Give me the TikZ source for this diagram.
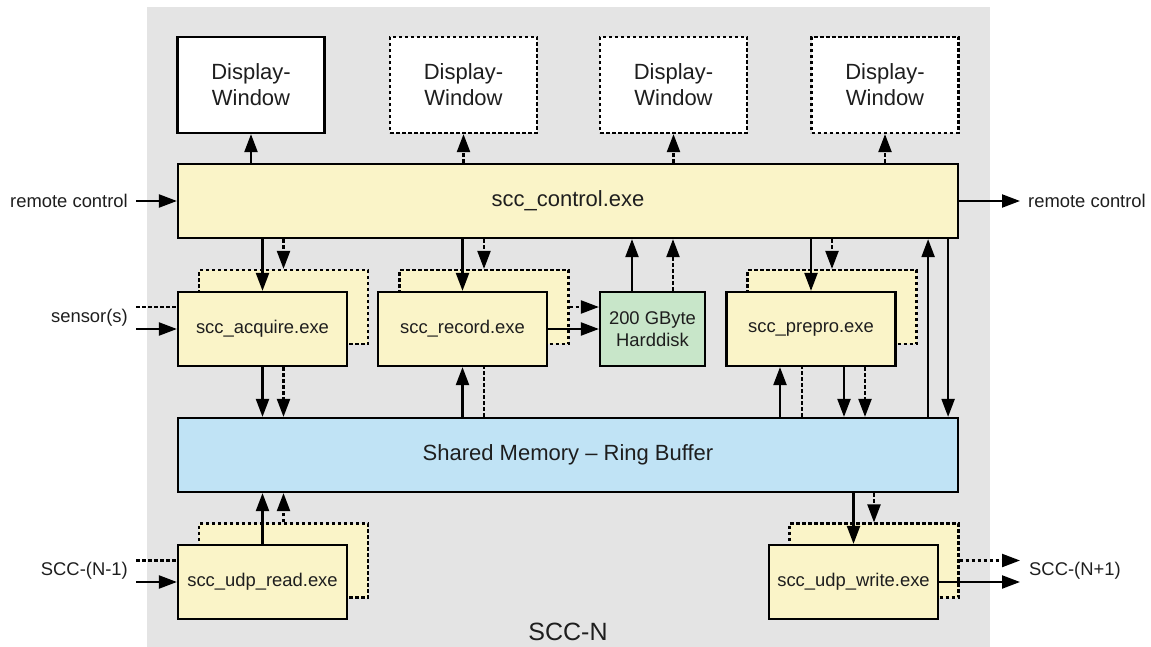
\documentclass[tikz,border=0pt]{standalone}
\usepackage{fontspec}
\setmainfont{Liberation Sans}
\usetikzlibrary{arrows.meta}
\definecolor{bggray}{RGB}{228,228,228}
\definecolor{boxyellow}{RGB}{250,244,200}
\definecolor{boxblue}{RGB}{192,227,245}
\definecolor{boxgreen}{RGB}{200,230,201}
\definecolor{txt}{RGB}{30,30,30}
\tikzset{
	yellow node/.style={rectangle, draw, line width=2.2pt, fill=boxyellow, text=txt, minimum width=169pt, minimum height=74pt, inner sep=0pt, font=\fontsize{18.4}{22}\selectfont},
	shadow node/.style={yellow node, dash pattern=on 3.5pt off 2.5pt},
	green node/.style={yellow node, fill=boxgreen, minimum width=105pt, align=center},
	wide node/.style={yellow node, minimum width=780pt, font=\fontsize{22}{26}\selectfont},
	window node/.style={rectangle, draw, line width=2.2pt, fill=white, text=txt, minimum width=147pt, minimum height=96pt, align=center, font=\fontsize{22}{26}\selectfont},
	dashed window node/.style={window node, dash pattern=on 3.5pt off 2.5pt},
	label text/.style={inner sep=0pt, text=txt, font=\fontsize{18.4}{22}\selectfont},
	solid arrow/.style={line width=2.2pt, -{Triangle[length=18pt,width=13pt]}},
	dashed arrow/.style={solid arrow, dash pattern=on 3.5pt off 2.5pt},
	dashed line/.style={line width=2.2pt, dash pattern=on 3.5pt off 2.5pt},
}
\begin{document}
\begin{tikzpicture}[x=1pt, y=-1pt]
	\useasboundingbox (0,0) rectangle (1151,647);
	\fill[bggray] (147,7) rectangle (990,647);

	\node(win1)[window node] at (251,85) {Display-\\Window};
	\node(win2)[dashed window node] at (463.5,85) {Display-\\Window};
	\node(win3)[dashed window node] at (673.5,85) {Display-\\Window};
	\node(win4)[dashed window node] at (885,85) {Display-\\Window};

	\node(ctrl)[wide node] at (568,201) {scc\_control.exe};

	\node(acqs)[shadow node] at (283.5,307) {};
	\node(acq)[yellow node] at (262.5,329) {scc\_acquire.exe};
	\node(recs)[shadow node] at (484,307) {};
	\node(rec)[yellow node] at (462.5,329) {scc\_record.exe};
	\node(hd)[green node] at (652.5,329) {200 GByte\\Harddisk};
	\node(pres)[shadow node] at (832,307) {};
	\node(pre)[yellow node] at (811,329) {scc\_prepro.exe};

	\node(sm)[wide node, fill=boxblue] at (568,455) {Shared Memory -- Ring Buffer};

	\node(udprs)[shadow node] at (283.5,560.5) {};
	\node(udpr)[yellow node] at (262.5,582) {scc\_udp\_read.exe};
	\node(udpws)[shadow node] at (874,560.5) {};
	\node(udpw)[yellow node] at (853.5,582) {scc\_udp\_write.exe};

	\node(rcin)[label text, anchor=east] at (128,201) {remote control};
	\node(rcout)[label text, anchor=west] at (1028,201) {remote control};
	\node(sens)[label text, anchor=east] at (128,318) {sensor(s)};
	\node(prev)[label text, anchor=east] at (128,571) {SCC-(N-1)};
	\node(next)[label text, anchor=west] at (1029,571) {SCC-(N+1)};
	\node(scc)[label text, font=\fontsize{25}{30}\selectfont] at (568,632) {SCC-N};

	\draw[solid arrow] (win1.south |- ctrl.north) -- (win1.south);
	\foreach \w in {win2,win3,win4}
		\draw[dashed arrow] (\w.south |- ctrl.north) -- (\w.south);

	\draw[solid arrow] ([xshift=8pt]rcin.east) -- (ctrl.west);
	\draw[solid arrow] (ctrl.east) -- ([xshift=-8pt]rcout.west);

	\foreach \p/\s in {acq/acqs, rec/recs, pre/pres}{
		\draw[solid arrow] (\p.north |- ctrl.south) -- (\p.north);
		\draw[dashed arrow] (\s.north |- ctrl.south) -- (\s.north);
	}

	\draw[dashed line] ([xshift=8pt]sens.east |- acqs.east) -- (acq.west |- acqs.east);
	\draw[solid arrow] ([xshift=8pt]sens.east |- acq.west) -- (acq.west);
	\draw[solid arrow] (acq.south) -- (acq.south |- sm.north);
	\draw[dashed arrow] (acqs.south |- acq.south) -- (acqs.south |- sm.north);

	\draw[solid arrow] (rec.south |- sm.north) -- (rec.south);
	\draw[dashed line] (recs.south |- sm.north) -- (recs.south |- rec.south);
	\draw[solid arrow] (rec.east) -- (hd.west);
	\draw[dashed arrow] (recs.east) -- (recs.east -| hd.west);

	\draw[solid arrow] ([xshift=-20.5pt]hd.north) -- ([xshift=-20.5pt]hd.north |- ctrl.south);
	\draw[dashed arrow] ([xshift=20.5pt]hd.north) -- ([xshift=20.5pt]hd.north |- ctrl.south);

	\draw[solid arrow] ([xshift=-31pt]pre.south |- sm.north) -- ([xshift=-31pt]pre.south);
	\draw[dashed line] ([xshift=-9pt]pre.south |- sm.north) -- ([xshift=-9pt]pre.south);
	\draw[solid arrow] ([xshift=33pt]pre.south) -- ([xshift=33pt]pre.south |- sm.north);
	\draw[dashed arrow] ([xshift=54pt]pre.south) -- ([xshift=54pt]pre.south |- sm.north);

	\draw[solid arrow] ([xshift=-31pt]sm.north east) -- ([xshift=-31pt]ctrl.south east);
	\draw[solid arrow] ([xshift=-11pt]ctrl.south east) -- ([xshift=-11pt]sm.north east);

	\draw[dashed line] ([xshift=8pt]prev.east |- udprs.east) -- (udpr.west |- udprs.east);
	\draw[solid arrow] ([xshift=8pt]prev.east |- udpr.west) -- (udpr.west);
	\draw[solid arrow] (udpr.north) -- (udpr.north |- sm.south);
	\draw[dashed arrow] (udprs.north) -- (udprs.north |- sm.south);

	\draw[solid arrow] (udpw.north |- sm.south) -- (udpw.north);
	\draw[dashed arrow] (udpws.north |- sm.south) -- (udpws.north);
	\draw[dashed arrow] (udpws.east) -- ([xshift=-9pt]next.west |- udpws.east);
	\draw[solid arrow] (udpw.east) -- ([xshift=-9pt]next.west |- udpw.east);
\end{tikzpicture}
\end{document}
